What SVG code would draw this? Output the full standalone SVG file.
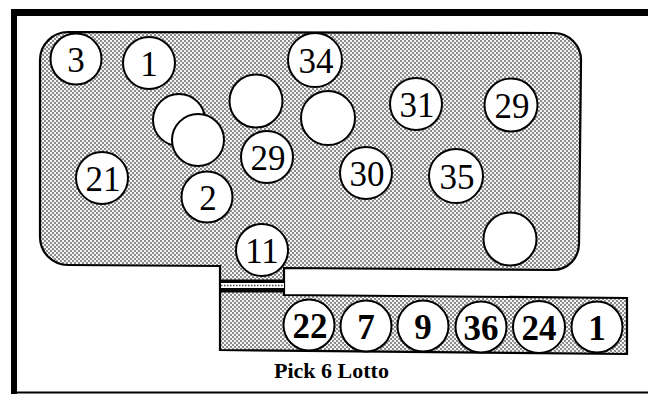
<svg xmlns="http://www.w3.org/2000/svg" width="648" height="394" viewBox="0 0 648 394">
<defs>
<pattern id="stip" width="4" height="4" patternUnits="userSpaceOnUse">
<rect width="4" height="4" fill="#f4f4f4"/>
<rect x="0" y="0" width="2" height="2" fill="#8c8c8c"/>
<rect x="2" y="2" width="2" height="2" fill="#8c8c8c"/>
</pattern>
</defs>
<style>
.ball{fill:#ffffff;stroke:#000;stroke-width:2}
.n{font-family:"Liberation Serif","Times New Roman",serif;font-size:35px;fill:#000;text-anchor:middle}
.b{font-weight:bold}
.lbl{font-family:"Liberation Serif","Times New Roman",serif;font-size:22px;font-weight:bold;fill:#000}
</style>
<rect width="648" height="394" fill="#ffffff"/>
<g id="frame">
<rect x="11" y="9" width="637" height="7" fill="#000"/>
<rect x="11" y="9" width="6" height="385" fill="#000"/>
<rect x="11" y="391.5" width="637" height="2" fill="#000"/>
</g>
<g id="machine">
<path d="M 68,32 L 554,33 A 27 27 0 0 1 581,60 L 579,244 A 26 26 0 0 1 553,270 L 284,268 L 284,295 L 627,298 L 627,354 L 220,350 L 220,266 L 68,265 A 28 28 0 0 1 40,237 L 40,60 A 28 28 0 0 1 68,32 Z" fill="url(#stip)" stroke="#000" stroke-width="2.2"/>
<g id="gate">
<rect x="221" y="279.5" width="63" height="3.5" fill="#000"/>
<rect x="221" y="283" width="63" height="5" fill="#ffffff"/>
<line x1="221" y1="285.5" x2="284" y2="285.5" stroke="#444" stroke-width="1.5" stroke-dasharray="1.5 1.5"/>
<rect x="221" y="288" width="63" height="4.5" fill="#000"/>
</g>
</g>
<g id="connectors"></g>
<g id="ball-3"><circle class="ball" cx="76" cy="59" r="25.5"/><text class="n" x="76" y="71.5">3</text></g>
<g id="ball-1a"><circle class="ball" cx="149" cy="63" r="26"/><text class="n" x="149" y="75.5">1</text></g>
<g id="ball-blank-a"><circle class="ball" cx="179" cy="120" r="26"/></g>
<g id="ball-blank-b"><circle class="ball" cx="198" cy="140" r="26"/></g>
<g id="ball-blank-c"><circle class="ball" cx="256" cy="101" r="26.5"/></g>
<g id="ball-29a"><circle class="ball" cx="267" cy="157" r="26"/><text class="n" x="268" y="169.5">29</text></g>
<g id="ball-34"><circle class="ball" cx="315" cy="60" r="27"/><text class="n" x="316" y="72.5">34</text></g>
<g id="ball-blank-d"><circle class="ball" cx="328" cy="118" r="27"/></g>
<g id="ball-31"><circle class="ball" cx="416" cy="104" r="26"/><text class="n" x="417" y="116.5">31</text></g>
<g id="ball-29b"><circle class="ball" cx="511" cy="105" r="26.5"/><text class="n" x="512" y="117.5">29</text></g>
<g id="ball-21"><circle class="ball" cx="102" cy="178" r="26"/><text class="n" x="103" y="190.5">21</text></g>
<g id="ball-2"><circle class="ball" cx="207" cy="197" r="25.5"/><text class="n" x="208" y="209.5">2</text></g>
<g id="ball-30"><circle class="ball" cx="366" cy="173" r="26"/><text class="n" x="367" y="185.5">30</text></g>
<g id="ball-35"><circle class="ball" cx="456" cy="176" r="27"/><text class="n" x="457" y="188.5">35</text></g>
<g id="ball-blank-e"><circle class="ball" cx="510" cy="239" r="26.5"/></g>
<g id="ball-11"><circle class="ball" cx="262" cy="250" r="26"/><text class="n" x="262" y="262.5">11</text></g>
<g id="pick-22"><circle class="ball" cx="309" cy="325" r="25.5"/><text class="n b" x="310" y="337.5">22</text></g>
<g id="pick-7"><circle class="ball" cx="366" cy="326" r="25.5"/><text class="n b" x="366" y="338.5">7</text></g>
<g id="pick-9"><circle class="ball" cx="423" cy="326" r="25.5"/><text class="n b" x="423" y="338.5">9</text></g>
<g id="pick-36"><circle class="ball" cx="481" cy="327" r="25.5"/><text class="n b" x="481" y="339.5">36</text></g>
<g id="pick-24"><circle class="ball" cx="539" cy="327" r="26"/><text class="n b" x="539" y="339.5">24</text></g>
<g id="pick-1"><circle class="ball" cx="597" cy="327" r="25.5"/><text class="n b" x="597" y="339.5">1</text></g>
<text class="lbl" x="274" y="378">Pick 6 Lotto</text>
</svg>
